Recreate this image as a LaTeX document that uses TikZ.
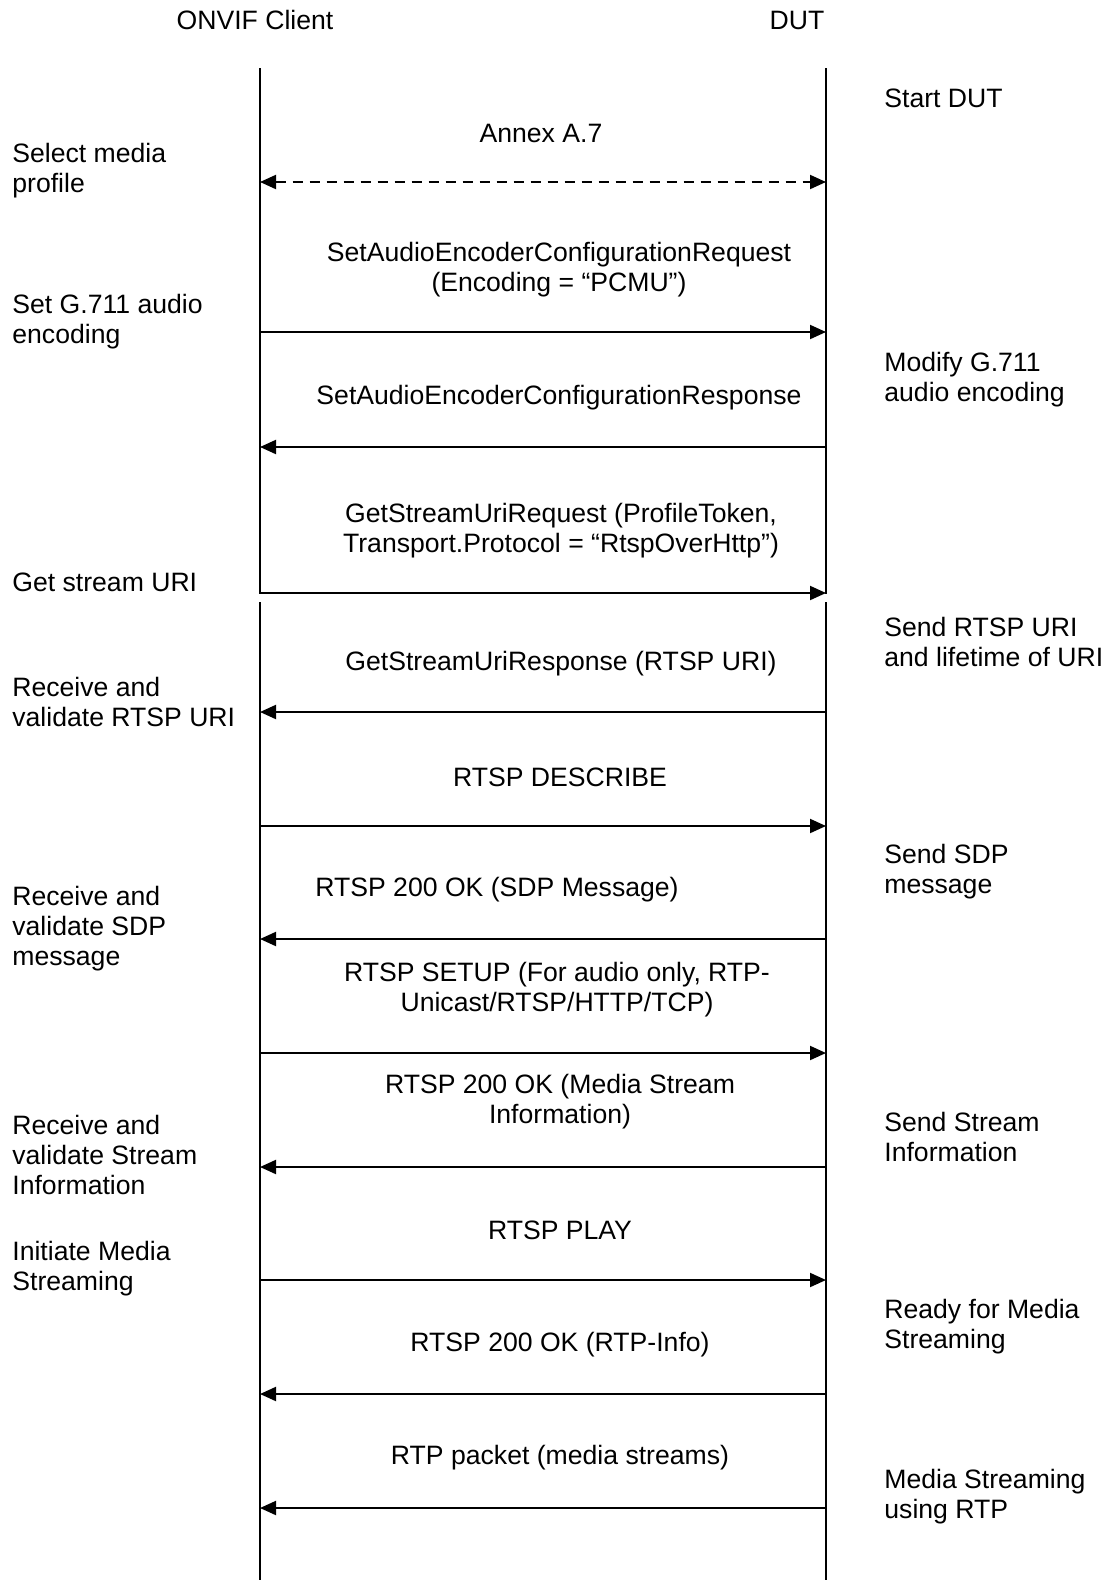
\documentclass[tikz,border=0pt]{standalone}
\usepackage{fontspec}
\setmainfont{Liberation Sans}
\usetikzlibrary{arrows.meta}

\begin{document}
\begin{tikzpicture}[x=0.5pt, y=-0.5pt,
    lbl/.style={anchor=west, align=left, inner sep=0pt, font=\fontsize{13.3}{15}\selectfont},
    msg/.style={align=center, inner sep=0pt, font=\fontsize{13.3}{15}\selectfont},
    life/.style={line width=1pt},
    call/.style={line width=1pt, -{Triangle[length=8pt, width=7pt]}}
  ]

    \useasboundingbox (0,0) rectangle (1107,1580);

    \node[msg] (client) at (255,20) {ONVIF Client};
    \node[msg] (dut) at (797,20) {DUT};

    \coordinate (ctop) at (260,68);
    \coordinate (dtop) at (826,68);
    \coordinate (cbrk) at (260,594);
    \coordinate (dbrk) at (826,594);
    \coordinate (cres) at (260,602);
    \coordinate (dres) at (826,602);
    \coordinate (cbot) at (260,1580);
    \coordinate (dbot) at (826,1580);
    \draw[life] (ctop) -- (cbrk) (cres) -- (cbot);
    \draw[life] (dtop) -- (dbrk) (dres) -- (dbot);

    \coordinate (c0) at (260,182);
    \coordinate (d0) at (826,182);
    \draw[call, dash pattern=on 5pt off 3.5pt,
      {Triangle[length=8pt, width=7pt]}-{Triangle[length=8pt, width=7pt]}] (c0) -- (d0);

    \foreach \y/\from/\to [count=\i] in {332/c/d, 447/d/c, 593/c/d, 712/d/c, 826/c/d, 939/d/c,
        1053/c/d, 1167/d/c, 1280/c/d, 1394/d/c, 1508/d/c} {
      \coordinate (c\i) at (260,\y);
      \coordinate (d\i) at (826,\y);
      \draw[call] (\from\i) -- (\to\i);
    }

    \node[msg] (annex) at (541,133) {Annex A.7};
    \node[msg] (setreq) at (559,270) {SetAudioEncoderConfigurationRequest\\(Encoding = “PCMU”)};
    \node[msg] (setres) at (559,398) {SetAudioEncoderConfigurationResponse};
    \node[msg] (urireq) at (561,531) {GetStreamUriRequest (ProfileToken,\\Transport.Protocol = “RtspOverHttp”)};
    \node[msg] (urires) at (561,664) {GetStreamUriResponse (RTSP URI)};
    \node[msg] (describe) at (560,777) {RTSP DESCRIBE};
    \node[msg] (sdpok) at (497,890) {RTSP 200 OK (SDP Message)};
    \node[msg] (setup) at (557,990) {RTSP SETUP (For audio only, RTP-\\Unicast/RTSP/HTTP/TCP)};
    \node[msg] (setupok) at (560,1102) {RTSP 200 OK (Media Stream\\Information)};
    \node[msg] (play) at (560,1230) {RTSP PLAY};
    \node[msg] (playok) at (560,1345) {RTSP 200 OK (RTP-Info)};
    \node[msg] (rtp) at (560,1458) {RTP packet (media streams)};

    \node[lbl] (select) at (12,171) {Select media\\profile};
    \node[lbl] (setenc) at (12,322) {Set G.711 audio\\encoding};
    \node[lbl] (geturi) at (12,582) {Get stream URI};
    \node[lbl] (checkuri) at (12,702) {Receive and\\validate RTSP URI};
    \node[lbl] (checksdp) at (12,929) {Receive and\\validate SDP\\message};
    \node[lbl] (checkinfo) at (12,1155) {Receive and\\validate Stream\\Information};
    \node[lbl] (initiate) at (12,1269) {Initiate Media\\Streaming};

    \node[lbl] (start) at (884,98) {Start DUT};
    \node[lbl] (modify) at (884,380) {Modify G.711\\audio encoding};
    \node[lbl] (senduri) at (884,642) {Send RTSP URI\\and lifetime of URI};
    \node[lbl] (sendsdp) at (884,872) {Send SDP\\message};
    \node[lbl] (sendinfo) at (884,1137) {Send Stream\\Information};
    \node[lbl] (ready) at (884,1327) {Ready for Media\\Streaming};
    \node[lbl] (streaming) at (884,1497) {Media Streaming\\using RTP};

  \end{tikzpicture}
\end{document}
